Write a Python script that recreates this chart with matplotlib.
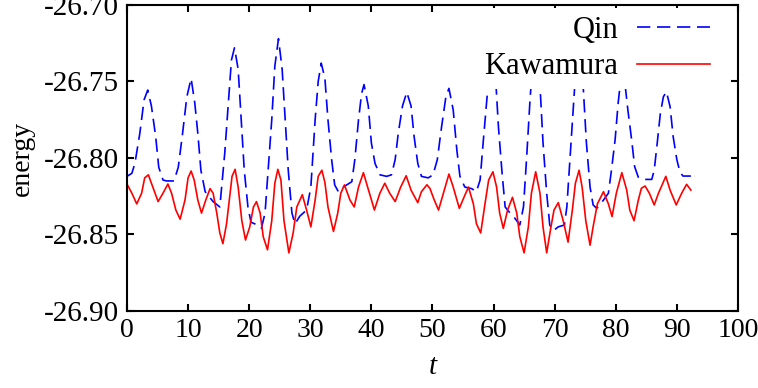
import matplotlib
matplotlib.use("Agg")
import matplotlib.pyplot as plt
from matplotlib.ticker import FormatStrFormatter

plt.rcParams['font.family'] = 'serif'
plt.rcParams['font.serif'] = ['Liberation Serif', 'DejaVu Serif']
plt.rcParams['axes.unicode_minus'] = False

# --- data ---
qin_t = [0.0, 0.8, 1.3, 2.1, 2.8, 3.4, 4.0, 4.7, 5.2, 5.9, 6.5, 7.7, 8.4, 9.1, 9.8, 10.5,
         11.1, 11.6, 12.1, 12.8, 14.1, 15.2, 16.0, 16.6, 17.1, 17.6, 18.2, 18.7, 19.2, 19.8,
         20.3, 20.9, 22.0, 22.6, 23.1, 23.7, 24.2, 24.8, 25.4, 25.9, 26.4, 27.0, 27.5, 28.3,
         29.4, 30.1, 30.8, 31.3, 31.8, 32.4, 32.9, 33.5, 34.0, 34.6, 35.4, 36.8, 37.3, 37.9,
         38.4, 38.8, 39.5, 40.0, 40.6, 41.4, 42.5, 43.3, 43.9, 44.4, 45.1, 45.8, 46.5, 47.0,
         47.6, 48.2, 49.3, 50.1, 50.8, 51.5, 52.2, 52.7, 53.4, 54.0, 54.5, 55.3, 56.4, 57.2,
         57.8, 58.3, 58.9, 59.4, 59.8, 60.3, 60.8, 61.4, 61.9, 62.7, 63.5, 64.3, 64.9, 65.4,
         66.0, 66.5, 67.0, 67.5, 68.1, 68.7, 69.2, 69.8, 70.6, 71.6, 72.0, 72.5, 73.0, 73.5,
         74.0, 74.6, 75.2, 75.8, 76.3, 76.9, 78.0, 78.8, 79.3, 79.9, 80.4, 80.9, 81.5, 82.0,
         82.6, 83.1, 83.7, 84.8, 85.9, 86.3, 86.8, 87.3, 87.8, 88.3, 88.9, 89.4, 90.0, 90.5,
         91.0, 92.3]
qin_e = [-26.812, -26.810, -26.8035, -26.784, -26.762, -26.7556, -26.766, -26.786, -26.806,
         -26.8144, -26.815, -26.815, -26.806, -26.784, -26.760, -26.748, -26.764, -26.784,
         -26.808, -26.822, -26.8285, -26.832, -26.797, -26.764, -26.736, -26.728, -26.742,
         -26.775, -26.808, -26.832, -26.842, -26.843, -26.846, -26.836, -26.808, -26.775,
         -26.740, -26.722, -26.742, -26.775, -26.808, -26.836, -26.843, -26.838, -26.834,
         -26.819, -26.775, -26.750, -26.738, -26.748, -26.775, -26.801, -26.8176, -26.822,
         -26.819, -26.8155, -26.801, -26.775, -26.758, -26.752, -26.766, -26.790, -26.8035,
         -26.811, -26.812, -26.811, -26.801, -26.784, -26.766, -26.757, -26.766, -26.786,
         -26.8035, -26.812, -26.813, -26.811, -26.801, -26.7795, -26.760, -26.7545, -26.7686,
         -26.795, -26.812, -26.819, -26.820, -26.822, -26.8144, -26.790, -26.762, -26.740,
         -26.733, -26.745, -26.7795, -26.810, -26.832, -26.836, -26.8394, -26.8438, -26.832,
         -26.801, -26.760, -26.735, -26.726, -26.745, -26.790, -26.823, -26.8438, -26.8475,
         -26.845, -26.8438, -26.832, -26.801, -26.769, -26.740, -26.728, -26.748, -26.790,
         -26.819, -26.8307, -26.8329, -26.8275, -26.823, -26.808, -26.788, -26.764, -26.746,
         -26.751, -26.769, -26.788, -26.8057, -26.8126, -26.814, -26.814, -26.808, -26.790,
         -26.771, -26.760, -26.7567, -26.7665, -26.786, -26.801, -26.809, -26.8118, -26.8118]

kaw_t = [0.0, 0.8, 1.6, 2.4, 2.9, 3.5, 4.1, 5.1, 5.9, 6.7, 7.3, 8.0, 8.7, 9.5, 10.0, 10.5,
         11.0, 11.6, 12.2, 12.9, 13.6, 14.1, 14.7, 15.2, 15.7, 16.3, 16.8, 17.2, 17.7, 18.2,
         18.8, 19.4, 20.1, 20.7, 21.2, 21.8, 22.3, 23.0, 23.7, 24.2, 24.7, 25.2, 25.7, 26.5,
         27.2, 27.8, 28.7, 29.4, 30.1, 30.8, 31.3, 31.9, 32.4, 32.9, 33.8, 34.5, 35.0, 35.6,
         36.5, 37.2, 37.9, 38.7, 39.4, 40.5, 41.4, 42.2, 43.0, 43.9, 44.8, 45.7, 46.5, 47.6,
         48.2, 49.1, 49.6, 50.3, 51.0, 51.8, 52.7, 53.4, 54.4, 55.2, 55.9, 56.7, 57.2, 57.9,
         58.6, 59.2, 59.9, 60.5, 61.0, 61.6, 62.3, 63.1, 63.8, 64.3, 65.0, 65.7, 66.2, 66.9,
         67.6, 68.1, 68.7, 69.4, 69.9, 70.6, 71.4, 72.2, 72.9, 73.4, 74.0, 74.5, 75.1, 75.8,
         76.3, 77.0, 78.0, 78.8, 79.4, 80.1, 81.0, 81.8, 82.3, 83.0, 83.7, 84.2, 84.8, 85.5,
         86.3, 87.0, 88.2, 88.9, 89.9, 90.8, 91.6, 92.3]
kaw_e = [-26.817, -26.823, -26.830, -26.823, -26.813, -26.811, -26.8176, -26.8285, -26.823,
         -26.817, -26.823, -26.834, -26.840, -26.8275, -26.813, -26.8085, -26.8144, -26.8275,
         -26.836, -26.8275, -26.820, -26.823, -26.836, -26.849, -26.856, -26.843, -26.826,
         -26.812, -26.8074, -26.819, -26.841, -26.8536, -26.845, -26.832, -26.8285, -26.836,
         -26.8514, -26.860, -26.841, -26.8165, -26.8074, -26.8144, -26.841, -26.862, -26.849,
         -26.832, -26.824, -26.834, -26.845, -26.8275, -26.812, -26.808, -26.816, -26.832,
         -26.848, -26.836, -26.823, -26.8176, -26.8275, -26.832, -26.819, -26.8096, -26.819,
         -26.834, -26.823, -26.8165, -26.823, -26.8285, -26.819, -26.8116, -26.821, -26.8292,
         -26.822, -26.8175, -26.820, -26.8275, -26.834, -26.823, -26.8105, -26.819, -26.8329,
         -26.8253, -26.819, -26.830, -26.843, -26.849, -26.830, -26.8144, -26.809, -26.819,
         -26.836, -26.846, -26.834, -26.8257, -26.836, -26.8514, -26.862, -26.845, -26.823,
         -26.809, -26.823, -26.845, -26.862, -26.845, -26.834, -26.8292, -26.841, -26.855,
         -26.834, -26.8165, -26.808, -26.819, -26.841, -26.857, -26.845, -26.830, -26.822,
         -26.830, -26.8383, -26.823, -26.8096, -26.821, -26.834, -26.841, -26.8275, -26.8198,
         -26.8183, -26.823, -26.8307, -26.823, -26.812, -26.821, -26.8307, -26.823, -26.8172,
         -26.821]

x_ticks = [0, 10, 20, 30, 40, 50, 60, 70, 80, 90, 100]
y_ticks = [-26.90, -26.85, -26.80, -26.75, -26.70]

fig = plt.figure(figsize=(7.58, 3.88), dpi=100)
ax = fig.add_axes([0.1675, 0.1985, 0.806, 0.7886])

ax.plot(qin_t, qin_e, color='#0000ff', lw=1.2, dashes=(8, 4), label='Qin')
ax.plot(kaw_t, kaw_e, color='#ff0000', lw=1.2, label='Kawamura')

ax.set_xlim(0, 100)
ax.set_ylim(-26.90, -26.70)
ax.set_xticks(x_ticks)
ax.set_yticks(y_ticks)
ax.yaxis.set_major_formatter(FormatStrFormatter('%.2f'))
ax.tick_params(direction='in', length=5, width=1.5, top=True, right=True)
ax.tick_params(axis='y', pad=6, labelsize=21)
ax.tick_params(axis='x', pad=5, labelsize=20)
for s in ax.spines.values():
    s.set_linewidth(1.5)

ax.set_xlabel('t', fontsize=21, fontstyle='italic', labelpad=8)
ax.set_ylabel('energy', fontsize=20, labelpad=6)

leg = ax.legend(loc='upper right', bbox_to_anchor=(0.972, 1.0), fontsize=22,
                frameon=True, framealpha=1, edgecolor='none', facecolor='white',
                markerfirst=False, handlelength=2.4, handletextpad=0.6,
                labelspacing=0.25, borderpad=0.25, borderaxespad=0.1, fancybox=False)
leg.get_frame().set_linewidth(0)

fig.savefig('out.png', dpi=100)
